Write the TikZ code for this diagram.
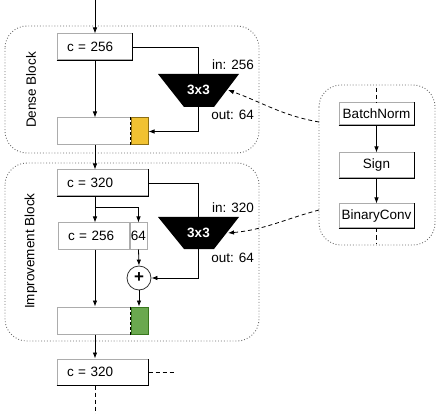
\documentclass[tikz,border=0pt]{standalone}
\usepackage{fontspec}
\setmainfont{Liberation Sans}
\usetikzlibrary{arrows.meta,calc}
\newcommand{\bevelbox}[1]{\draw[line width=1pt] (#1.south west) -- (#1.south east) -- (#1.north east);}
\begin{document}
\begin{tikzpicture}[x=1pt,y=-1pt, font=\fontsize{13.5}{16}\selectfont,
  arr/.style={-{Latex[length=6pt,width=4.5pt]}, line width=0.8pt},
  ln/.style={line width=0.8pt},
  dsh/.style={line width=0.8pt, dashed, dash pattern=on 4pt off 3pt},
  blk/.style={draw=gray!85!black, dotted, line width=0.9pt, rounded corners=22pt},
  cbox/.style={draw=gray!65, line width=1pt, fill=white, text width=#1, align=left,
    inner xsep=10pt, inner ysep=0pt, minimum height=26pt},
  pbox/.style={draw=gray!65, line width=1pt, fill=white, inner sep=0pt,
    minimum width=#1, minimum height=26pt},
  sbox/.style={draw=gray!65, line width=1pt, fill=white, inner sep=0pt,
    minimum width=75pt, minimum height=#1},
  ybox/.style={draw={rgb,255:red,140;green,110;blue,20}, fill={rgb,255:red,241;green,194;blue,50}, line width=1pt,
    inner sep=0pt, minimum width=17pt, minimum height=27pt},
  gbox/.style={draw={rgb,255:red,56;green,118;blue,29}, fill={rgb,255:red,106;green,168;blue,79}, line width=1pt,
    inner sep=0pt, minimum width=17pt, minimum height=27pt},
  conv/.style={fill=black},
  lbl/.style={anchor=east, inner sep=0pt}
]
\useasboundingbox (0,0) rectangle (439,414);

% block frames
\draw[blk] (5,26) rectangle (259,153);
\draw[blk] (5,163) rectangle (259,341);
\draw[blk] (319,85) rectangle (435,245);

\node[rotate=90] (dlab) at (31,90) {Dense Block};
\node[rotate=90] (ilab) at (31,251) {Improvement Block};

% ---------- Dense block ----------
\coordinate (top) at (95,0);
\node[cbox=55pt] (c1) at (94.5,47) {c = 256};
\bevelbox{c1}
\node[pbox=74pt, minimum height=27pt] (d1) at (94,131.5) {};
\node[ybox] (y1) at (139.5,131.5) {};
\draw[line width=1pt, dashed, dash pattern=on 3pt off 2pt] (y1.north west) -- (y1.south west);

\coordinate (t1tl) at (158,74); \coordinate (t1tr) at (239,74);
\coordinate (t1br) at (214,107); \coordinate (t1bl) at (184,107);
\fill[conv] (t1tl) -- (t1tr) -- (t1br) -- (t1bl) -- cycle;
\node[text=white, font=\fontsize{13.5}{16}\selectfont\bfseries] (k1) at (198.5,90) {3x3};
\coordinate (t1top) at (198,74); \coordinate (t1bot) at (198,107);
\coordinate (t1in) at (228,90);
\node[lbl] (in1) at (254,65) {in: 256};
\node[lbl] (out1) at (254,115) {out: 64};

\draw[arr] (top) -- (top |- c1.north);
\draw[ln] (c1.east) -| (t1top);
\draw[arr] (c1.south -| top) -- (top |- d1.north);
\draw[arr] (t1bot) |- (y1.east);

% ---------- Improvement block ----------
\node[cbox=71pt] (c2) at (102.5,183) {c = 320};
\bevelbox{c2}
\draw[arr] (top |- d1.south) -- (top |- c2.north);
\node[cbox=51pt, inner xsep=10pt] (c3) at (93.5,236) {c = 256};
\node[pbox=17pt] (e64) at (138.5,236) {64};
\node[draw=gray!40!black, line width=0.8pt, fill=white, circle, inner sep=0pt, minimum size=24pt,
  font=\fontsize{17}{18}\selectfont\bfseries] (plus) at (139,278) {+};
\node[pbox=74pt, minimum height=27pt] (d2) at (94,320.5) {};
\node[gbox] (y2) at (139.5,320.5) {};
\draw[line width=1pt, dashed, dash pattern=on 3pt off 2pt] (y2.north west) -- (y2.south west);

\coordinate (t2tl) at (158,217); \coordinate (t2tr) at (239,217);
\coordinate (t2br) at (214,249); \coordinate (t2bl) at (184,249);
\fill[conv] (t2tl) -- (t2tr) -- (t2br) -- (t2bl) -- cycle;
\node[text=white, font=\fontsize{13.5}{16}\selectfont\bfseries] (k2) at (198.5,233) {3x3};
\coordinate (t2top) at (198,217); \coordinate (t2bot) at (198,249);
\coordinate (t2in) at (228,233);
\node[lbl] (in2) at (254,208) {in: 320};
\node[lbl] (out2) at (254,258) {out: 64};

\coordinate (jn) at (95,207);
\draw[ln] (c2.east) -| (t2top);
\draw[ln] (top |- c2.south) -- (jn);
\draw[arr] (jn) -- (top |- c3.north);
\draw[arr] (jn) -| (e64.north);
\draw[arr] (e64.south) -- (plus.north);
\draw[arr] (t2bot) |- (plus.east);
\draw[arr] (plus.south) -- (plus.south |- y2.north);
\draw[arr] (top |- c3.south) -- (top |- d2.north);

% ---------- after ----------
\node[cbox=71pt] (c4) at (102.5,372) {c = 320};
\bevelbox{c4}
\draw[arr] (top |- d2.south) -- (top |- c4.north);
\coordinate (c4r) at (175,372);
\coordinate (bot) at (95,414);
\draw[dsh] (c4.east) -- (c4r);
\draw[dsh] (top |- c4.south) -- (bot);

% ---------- right panel ----------
\node[sbox=22pt] (bn) at (376.5,114) {BatchNorm};
\bevelbox{bn}
\node[sbox=25pt] (sg) at (376.5,165.5) {Sign};
\bevelbox{sg}
\node[sbox=24pt] (bc) at (376.5,216) {BinaryConv};
\bevelbox{bc}
\coordinate (pt) at (376.5,88);
\coordinate (pb) at (376.5,243);
\draw[dsh] (pt) -- (bn.north);
\draw[arr] (bn.south) -- (sg.north);
\draw[arr] (sg.south) -- (bc.north);
\draw[dsh] (bc.south) -- (pb);

\coordinate (p1) at (319,122);
\coordinate (p2) at (319,210);
\draw[dsh, -{Latex[length=6pt,width=4.5pt]}] (p1) to[out=170, in=-20] (t1in);
\draw[dsh, -{Latex[length=6pt,width=4.5pt]}] (p2) to[out=195, in=5] (t2in);
\end{tikzpicture}
\end{document}
